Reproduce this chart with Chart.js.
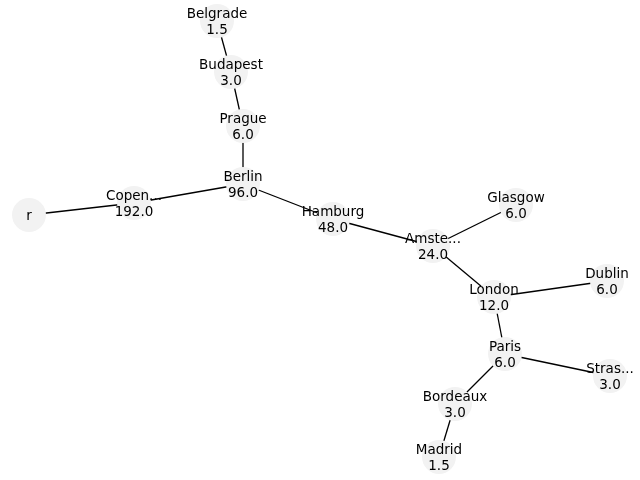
<!DOCTYPE html>
<html>
<head>
<meta charset="utf-8">
<script src="https://cdn.jsdelivr.net/npm/chart.js@4"></script>
<style>
html,body{margin:0;padding:0;background:#fff;}
#wrap{width:640px;height:480px;position:relative;}
</style>
</head>
<body>
<div id="wrap"><canvas id="c"></canvas></div>
<script>
const nodeNames = ["r","Copen...","Berlin","Prague","Budapest","Belgrade","Hamburg","Amste...","Glasgow","London","Dublin","Paris","Stras...","Bordeaux","Madrid"];
const nodeValues = ["","192.0","96.0","6.0","3.0","1.5","48.0","24.0","6.0","12.0","6.0","6.0","3.0","3.0","1.5"];
const nodeX = [29,134,243,243,231,217,333,433,516,494,607,505,610,455,439];
const nodeY = [215,203,184,126,72,21,219,246,205,297,281,354,376,404,457];
const edgeFrom = [0,1,2,3,4,2,6,7,7,9,9,11,11,13];
const edgeTo   = [1,2,3,4,5,6,7,8,9,10,11,12,13,14];

const nodePoints = nodeX.map((x,i)=>({x:x,y:nodeY[i]}));
const edgeSets = edgeFrom.map((a,k)=>({
  type:'line',
  data:[nodePoints[a], nodePoints[edgeTo[k]]],
  borderColor:'#000',
  borderWidth:1.3,
  pointRadius:0,
  fill:false,
  order:2,
  clip:false
}));

const labelPlugin = {
  id:'nodeLabels',
  afterDatasetsDraw(chart){
    const ctx = chart.ctx;
    const xs = chart.scales.x, ys = chart.scales.y;
    ctx.save();
    ctx.fillStyle = '#000';
    ctx.font = '13.5px "DejaVu Sans"';
    ctx.textAlign = 'center';
    ctx.textBaseline = 'middle';
    nodeNames.forEach((n,i)=>{
      const px = xs.getPixelForValue(nodeX[i]);
      const py = ys.getPixelForValue(nodeY[i]);
      if(nodeValues[i]===''){
        ctx.fillText(n, px, py+1);
      } else {
        ctx.fillText(n, px, py-7);
        ctx.fillText(nodeValues[i], px, py+9);
      }
    });
    ctx.restore();
  }
};

new Chart(document.getElementById('c'), {
  type:'scatter',
  data:{
    datasets:[
      {
        type:'scatter',
        data:nodePoints,
        pointRadius:17,
        pointHoverRadius:17,
        backgroundColor:'#f2f2f2',
        borderWidth:0,
        order:1,
        clip:false
      },
      ...edgeSets
    ]
  },
  options:{
    responsive:true,
    maintainAspectRatio:false,
    animation:false,
    layout:{padding:0, autoPadding:false},
    plugins:{legend:{display:false},tooltip:{enabled:false}},
    events:[],
    scales:{
      x:{type:'linear',min:0,max:640,display:false},
      y:{type:'linear',min:0,max:480,reverse:true,display:false}
    }
  },
  plugins:[labelPlugin]
});
</script>
</body>
</html>
